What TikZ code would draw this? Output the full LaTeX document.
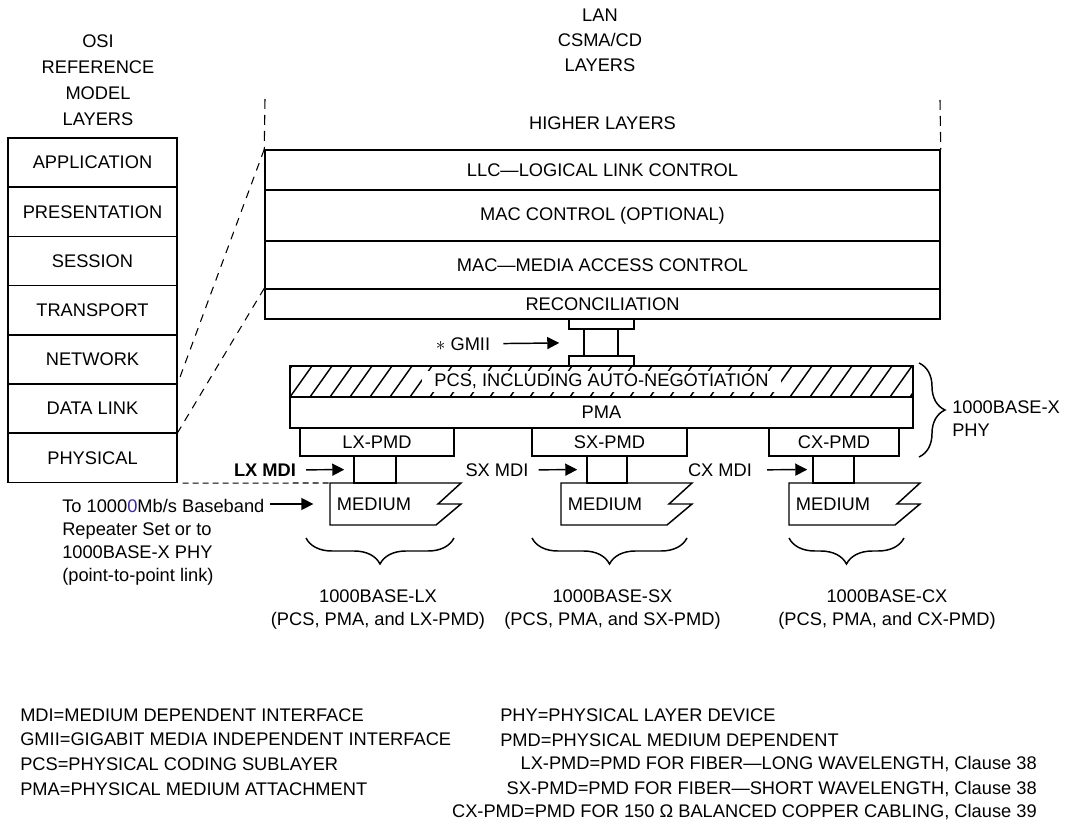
\documentclass[tikz,border=0pt]{standalone}
\usepackage{fontspec}
\setmainfont{Liberation Sans}
\usetikzlibrary{arrows.meta,decorations.pathreplacing,calc}
\definecolor{typoblue}{HTML}{3C2A9E}
\tikzset{
  font=\fontsize{13.7}{17.25}\selectfont,
  lyr/.style={draw,line width=1.1pt,inner sep=0pt,align=center},
  osilyr/.style={lyr,minimum width=126.75pt,minimum height=36.9pt},
  lanlyr/.style={lyr,minimum width=506.25pt},
  phylyr/.style={lyr,minimum width=467.25pt,minimum height=23.25pt},
  pmdbox/.style={lyr,minimum height=21pt},
  mdibox/.style={lyr,minimum height=20.25pt},
  flange/.style={lyr,minimum width=48.75pt,minimum height=7.5pt},
  guide/.style={line width=0.8pt,dash pattern=on 6pt off 5pt},
  ptr/.style={-{Triangle[length=9pt,width=9pt]},line width=1.1pt},
  curly/.style={decorate,decoration={brace,amplitude=19.5pt},line width=1.1pt},
  lbl/.style={inner sep=0pt,align=center},
}
\begin{document}
\begin{tikzpicture}[x=0.75pt,y=-0.75pt]
  \useasboundingbox (0,0) rectangle (1065,820);

  % ===== OSI reference model column =====
  \node[lbl,font=\fontsize{13.7}{19.5}\selectfont] (osihead) at (98,80)
    {OSI\\REFERENCE\\MODEL\\LAYERS};
  \foreach \nm/\txt [count=\i] in {app/APPLICATION,pres/PRESENTATION,sess/SESSION,
      trans/TRANSPORT,net/NETWORK,dl/DATA LINK,phys/PHYSICAL}{
    \node[osilyr] (\nm) at (92.5,{138+49.2*(\i-0.5)}) {\txt};
  }

  % ===== LAN CSMA/CD stack =====
  \node[lbl,font=\fontsize{13.7}{18.75}\selectfont] (lanhead) at (600,40)
    {LAN\\CSMA/CD\\LAYERS};
  \node[lbl] (higher) at (602.5,123) {HIGHER LAYERS};
  \node[lanlyr,minimum height=30pt] (llc) at (602.5,170) {LLC—LOGICAL LINK CONTROL};
  \node[lanlyr,minimum height=38.25pt] (macctl) at (602.5,215.5) {MAC CONTROL (OPTIONAL)};
  \node[lanlyr,minimum height=36pt] (mac) at (602.5,265) {MAC—MEDIA ACCESS CONTROL};
  \node[lanlyr,minimum height=22.5pt] (recon) at (602.5,304) {RECONCILIATION};
  \coordinate (hlL) at (265,99);
  \coordinate (hlR) at (940,100);
  \draw[guide,dash pattern=on 7.5pt off 4.5pt] (hlL) -- (llc.north west);
  \draw[guide,dash pattern=on 7.5pt off 4.5pt] (hlR) -- (llc.north east);

  % mapping onto the OSI layers
  \draw[guide] (llc.north west) -- (dl.north east);
  \draw[guide] (recon.north west) -- (phys.north east);

  % ===== GMII =====
  \node[flange] (gmiitop) at (601.5,324) {};
  \node[lyr,minimum width=25.5pt,minimum height=20.25pt] (gmii) at (601,342.5) {};
  \node[flange] (gmiibot) at (601.5,361) {};
  \node[lbl] (gmiilbl) at (463,344) {$\ast$ GMII};
  \draw[ptr,shorten <=9.75pt,shorten >=18pt] (gmiilbl) -- (gmii);

  % ===== 1000BASE-X PHY =====
  \node[phylyr] (pcs) at (601.5,381.5) {};
  \begin{scope}
    \clip (pcs.south west) rectangle (pcs.north east);
    \foreach \hx in {270,290,...,930}
      \draw[line width=1.1pt] (\hx,397) -- ++(22,-31);
  \end{scope}
  \node[lbl,fill=white,inner xsep=9pt,inner ysep=1.5pt,text height=10pt,text depth=2.5pt]
    (pcstxt) at (pcs) {PCS, INCLUDING AUTO-NEGOTIATION};
  \node[phylyr] (pma) at (601.5,412.5) {PMA};
  \draw[curly] (919,363) -- (919,457);
  \node[lbl,anchor=west,align=left] (phylbl) at (952,418.5) {1000BASE-X\\PHY};

  % PMDs and MDIs
  \node[pmdbox,minimum width=115.5pt] (lxpmd) at (377,442) {LX-PMD};
  \node[pmdbox,minimum width=116.25pt] (sxpmd) at (609.5,442) {SX-PMD};
  \node[pmdbox,minimum width=97.5pt] (cxpmd) at (834,442) {CX-PMD};
  \node[mdibox,minimum width=31.5pt] (lxmdi) at (375,469.5) {};
  \node[mdibox,minimum width=30pt] (sxmdi) at (607,469.5) {};
  \node[mdibox,minimum width=30.75pt] (cxmdi) at (833.5,469.5) {};
  \node[lbl] (lxlbl) at (265,470) {\bfseries LX MDI};
  \node[lbl] (sxlbl) at (497,470) {SX MDI};
  \node[lbl] (cxlbl) at (720,470) {CX MDI};
  \draw[ptr,shorten <=7.5pt,shorten >=6.75pt] (lxlbl) -- (lxmdi);
  \draw[ptr,shorten <=7.5pt,shorten >=6.75pt] (sxlbl) -- (sxmdi);
  \draw[ptr,shorten <=11.25pt,shorten >=3.75pt] (cxlbl) -- (cxmdi);

  % ===== media =====
  \foreach \nm/\mx in {lxmed/330,sxmed/561,cxmed/789}{
    \draw[line width=1.1pt] (\mx,483) -- ++(131,0) -- ++(-23,21) -- ++(23,0)
      -- ++(-25,21) -| cycle;
    \coordinate (\nm nw) at (\mx,483);
    \node[lbl] (\nm) at ({\mx+44},504) {MEDIUM};
  }
  \draw[line width=0.8pt,dash pattern=on 4.5pt off 3pt,shorten <=3.75pt]
    (phys.south east) -- (lxmednw);
  \node[lbl,anchor=north west,align=left] (tolink) at (62,498.5)
    {To 1000\textcolor{typoblue}{0}Mb/s Baseband\\Repeater Set or to\\1000BASE-X PHY\\(point-to-point link)};
  \coordinate (totail) at (270,504);
  \draw[ptr,shorten >=17.5pt] (totail) -- (lxmed.west);

  % ===== PHY braces =====
  \foreach \a/\b in {306/454,532/687,789/904}
    \draw[curly] (\b,538) -- (\a,538);
  \node[lbl,anchor=north] (lxname) at (378,589.5) {1000BASE-LX\\(PCS, PMA, and LX-PMD)};
  \node[lbl,anchor=north] (sxname) at (612.5,589.5) {1000BASE-SX\\(PCS, PMA, and SX-PMD)};
  \node[lbl,anchor=north] (cxname) at (887,589.5) {1000BASE-CX\\(PCS, PMA, and CX-PMD)};

  % ===== abbreviations =====
  \foreach \txt [count=\i] in {MDI=MEDIUM DEPENDENT INTERFACE,
      GMII=GIGABIT MEDIA INDEPENDENT INTERFACE,PCS=PHYSICAL CODING SUBLAYER,
      PMA=PHYSICAL MEDIUM ATTACHMENT}{
    \node[lbl,anchor=west] (legl\i) at (20,{715+24.7*(\i-1)}) {\txt};
  }
  \node[lbl,anchor=west] (legphy) at (500,715) {PHY=PHYSICAL LAYER DEVICE};
  \node[lbl,anchor=west] (legpmd) at (500,740) {PMD=PHYSICAL MEDIUM DEPENDENT};
  \node[lbl,anchor=east] (leglx) at (1037,764) {LX-PMD=PMD FOR FIBER—LONG WAVELENGTH, Clause 38};
  \node[lbl,anchor=east] (legsx) at (1037,789) {SX-PMD=PMD FOR FIBER—SHORT WAVELENGTH, Clause 38};
  \node[lbl,anchor=east] (legcx) at (1037,812) {CX-PMD=PMD FOR 150 Ω BALANCED COPPER CABLING, Clause 39};
\end{tikzpicture}
\end{document}
